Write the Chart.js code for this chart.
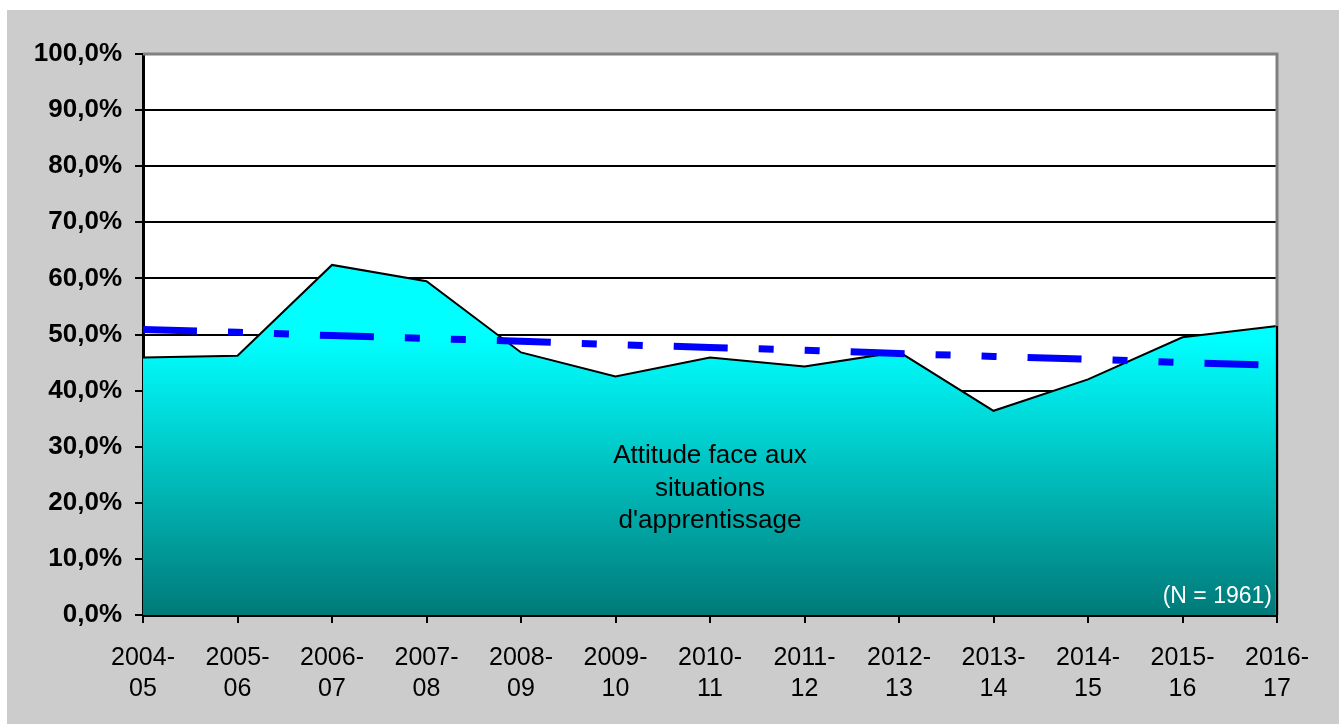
<!DOCTYPE html>
<html>
<head>
<meta charset="utf-8">
<script src="https://cdn.jsdelivr.net/npm/chart.js@4.4.0/dist/chart.umd.min.js"></script>
<style>
  html, body { margin: 0; padding: 0; background: #ffffff; }
  #wrap { width: 1339px; height: 724px; position: relative; }
</style>
</head>
<body>
<div id="wrap"><canvas id="chart"></canvas></div>
<script>
// school years on the x axis (two lines each)
const categories = [
  ['2004-', '05'], ['2005-', '06'], ['2006-', '07'], ['2007-', '08'],
  ['2008-', '09'], ['2009-', '10'], ['2010-', '11'], ['2011-', '12'],
  ['2012-', '13'], ['2013-', '14'], ['2014-', '15'], ['2015-', '16'],
  ['2016-', '17']
]
// percentages
const attitudeValues = [45.9, 46.2, 62.4, 59.5, 46.8, 42.5, 45.9, 44.3, 46.9, 36.4, 42.0, 49.5, 51.5]
const trendValues = [50.9, 50.4, 49.8, 49.3, 48.8, 48.2, 47.7, 47.2, 46.6, 46.1, 45.6, 45.0, 44.5]
const yTicks = [0, 10, 20, 30, 40, 50, 60, 70, 80, 90, 100]

const seriesLabel = ['Attitude face aux', 'situations', "d'apprentissage"]
const noteLabel = '(N = 1961)'

const fontFamily = '"Liberation Sans", Arial, sans-serif'

// grey frame, white plot area, plot border and texts
const framePlugin = {
  id: 'frame',
  beforeDraw(chart) {
    const { ctx, chartArea: a, width, height } = chart
    ctx.save()
    ctx.fillStyle = '#ffffff'
    ctx.fillRect(0, 0, width, height)
    ctx.fillStyle = '#cccccc'
    ctx.fillRect(7, 10, width - 7, height - 10)
    ctx.fillStyle = '#ffffff'
    ctx.fillRect(a.left, a.top, a.right - a.left, a.bottom - a.top)
    ctx.restore()
  },
  afterDatasetsDraw(chart) {
    const { ctx, chartArea: a, scales } = chart
    ctx.save()
    // grey top and right border
    ctx.strokeStyle = '#808080'
    ctx.lineWidth = 3
    ctx.beginPath()
    ctx.moveTo(a.left, a.top)
    ctx.lineTo(a.right, a.top)
    ctx.lineTo(a.right, a.bottom)
    ctx.stroke()
    // black edge of the area on the right
    const lastY = scales.y.getPixelForValue(attitudeValues[attitudeValues.length - 1])
    ctx.strokeStyle = '#000000'
    ctx.lineWidth = 2
    ctx.beginPath()
    ctx.moveTo(a.right, lastY)
    ctx.lineTo(a.right, a.bottom)
    ctx.stroke()

    // series label in the area
    ctx.fillStyle = '#000000'
    ctx.font = '26px ' + fontFamily
    ctx.textAlign = 'center'
    ctx.textBaseline = 'middle'
    const cx = scales.x.getPixelForValue(6)
    seriesLabel.forEach((t, i) => ctx.fillText(t, cx, 456 + i * 32.5))

    // sample size note
    ctx.fillStyle = '#ffffff'
    ctx.font = '23px ' + fontFamily
    ctx.textAlign = 'right'
    ctx.fillText(noteLabel, a.right - 5, 597)
    ctx.restore()
  }
}

const canvas = document.getElementById('chart')

new Chart(canvas, {
  type: 'line',
  data: {
    labels: categories,
    datasets: [
      {
        label: 'Tendance',
        data: trendValues,
        borderColor: '#0000ff',
        borderWidth: 7,
        borderDash: [54, 31, 15, 31, 15, 31],
        borderCapStyle: 'butt',
        pointRadius: 0,
        fill: false,
        tension: 0,
        order: 0
      },
      {
        label: 'Attitude face aux situations d\'apprentissage',
        data: attitudeValues,
        borderColor: '#000000',
        borderWidth: 2,
        pointRadius: 0,
        tension: 0,
        fill: 'origin',
        order: 1,
        backgroundColor: (context) => {
          const { ctx, chartArea } = context.chart
          if (!chartArea) return '#00c0c0'
          const g = ctx.createLinearGradient(0, chartArea.top, 0, chartArea.bottom)
          const f = (340 - chartArea.top) / (chartArea.bottom - chartArea.top)
          g.addColorStop(0, '#00ffff')
          g.addColorStop(Math.max(0, Math.min(1, f)), '#00ffff')
          g.addColorStop(1, '#007a78')
          return g
        }
      }
    ]
  },
  options: {
    responsive: true,
    maintainAspectRatio: false,
    animation: false,
    events: [],
    layout: { padding: { left: 0, top: 54, right: 62, bottom: 0 } },
    plugins: {
      legend: { display: false },
      tooltip: { enabled: false },
      title: { display: false }
    },
    scales: {
      x: {
        offset: false,
        border: { display: true, color: '#000000', width: 3 },
        grid: {
          display: true,
          drawOnChartArea: false,
          drawTicks: true,
          tickLength: 8,
          color: '#000000',
          lineWidth: 2
        },
        ticks: {
          color: '#000000',
          padding: 19,
          maxRotation: 0,
          autoSkip: false,
          font: { family: fontFamily, size: 25, lineHeight: 1.25 }
        },
        afterFit(scale) { scale.height = 724 - 615 }
      },
      y: {
        min: 0,
        max: 100,
        afterBuildTicks(scale) { scale.ticks = yTicks.map(v => ({ value: v })) },
        border: { display: true, color: '#000000', width: 3 },
        grid: {
          color: '#000000',
          lineWidth: 2,
          drawTicks: true,
          tickLength: 8
        },
        ticks: {
          color: '#000000',
          padding: 13,
          font: { family: fontFamily, size: 26, weight: 'bold' },
          callback: (v) => v.toFixed(1).replace('.', ',') + '%'
        },
        afterFit(scale) { scale.width = 143 }
      }
    }
  },
  plugins: [framePlugin]
})
</script>
</body>
</html>
